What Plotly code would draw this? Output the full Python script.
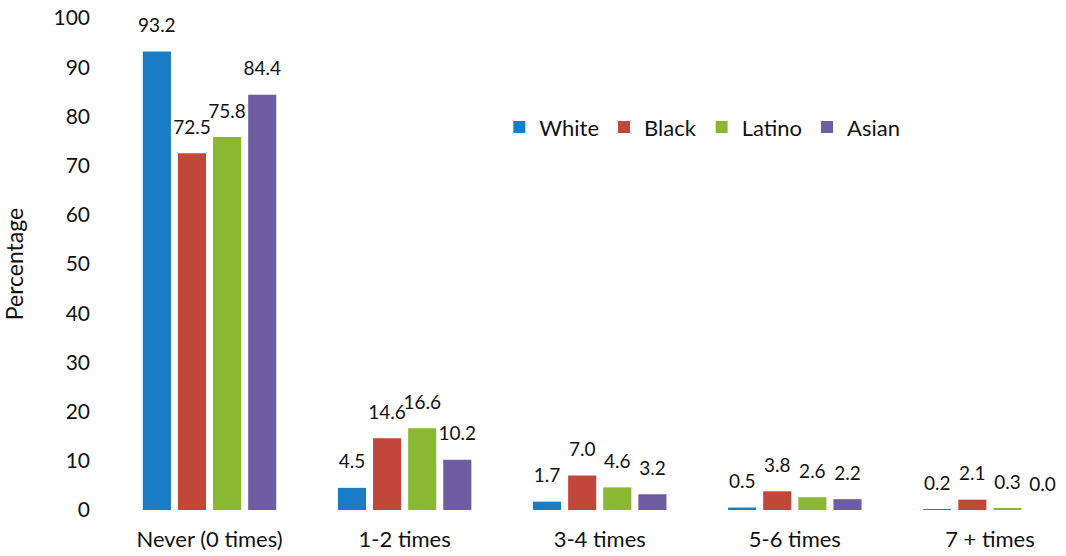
import plotly.graph_objects as go

categories = ["Never (0 times)", "1-2 times", "3-4 times", "5-6 times", "7 + times"]
white = [93.2, 4.5, 1.7, 0.5, 0.2]
black = [72.5, 14.6, 7.0, 3.8, 2.1]
latino = [75.8, 16.6, 4.6, 2.6, 0.3]
asian = [84.4, 10.2, 3.2, 2.2, 0.0]
y_ticks = list(range(0, 101, 10))

series = [
    ("White", white, "#1a7bc6"),
    ("Black", black, "#c0473a"),
    ("Latino", latino, "#8ab833"),
    ("Asian", asian, "#6e5da0"),
]

FONT = "Lato"
GAP = 0.28
fig = go.Figure()
for name, vals, col in series:
    fig.add_trace(go.Bar(
        name=name, x=categories, y=vals, marker_color=col, marker_line_width=0,
        hoverinfo="x+y+name",
    ))
for name, vals, col in series:
    fig.add_trace(go.Scatter(
        name=name, x=categories, y=vals, mode="markers+text",
        marker=dict(size=22, opacity=0, color=col),
        text=[f"{v:.1f}" for v in vals], textposition="top center",
        textfont=dict(size=19, color="#111", family=FONT),
        cliponaxis=False, showlegend=False, hoverinfo="skip",
    ))

fig.update_layout(
    width=1066, height=556,
    barmode="group", bargap=GAP, bargroupgap=0.2,
    scattermode="group", scattergap=GAP,
    plot_bgcolor="white", paper_bgcolor="white",
    margin=dict(l=112, r=0, t=18, b=46),
    font=dict(family=FONT, size=20, color="#111"),
    legend=dict(orientation="h", x=0.406, y=0.778, xanchor="left", yanchor="middle",
                font=dict(size=22, family=FONT), itemwidth=30, traceorder="normal"),
    xaxis=dict(range=[-0.5, 4.39], showline=False, ticks="", ticklabelstandoff=14,
               tickfont=dict(size=22), automargin=False),
    yaxis=dict(range=[0, 100], tickvals=y_ticks, showgrid=False, zeroline=False,
               showline=False, ticks="", ticklabelstandoff=21, tickfont=dict(size=21),
               automargin=False, ticklabeloverflow="allow",
               title=dict(text="Percentage", font=dict(size=23), standoff=36)),
)
fig.write_html("out.html", config={"displayModeBar": False},
               post_script="document.body.style.margin='0';")
